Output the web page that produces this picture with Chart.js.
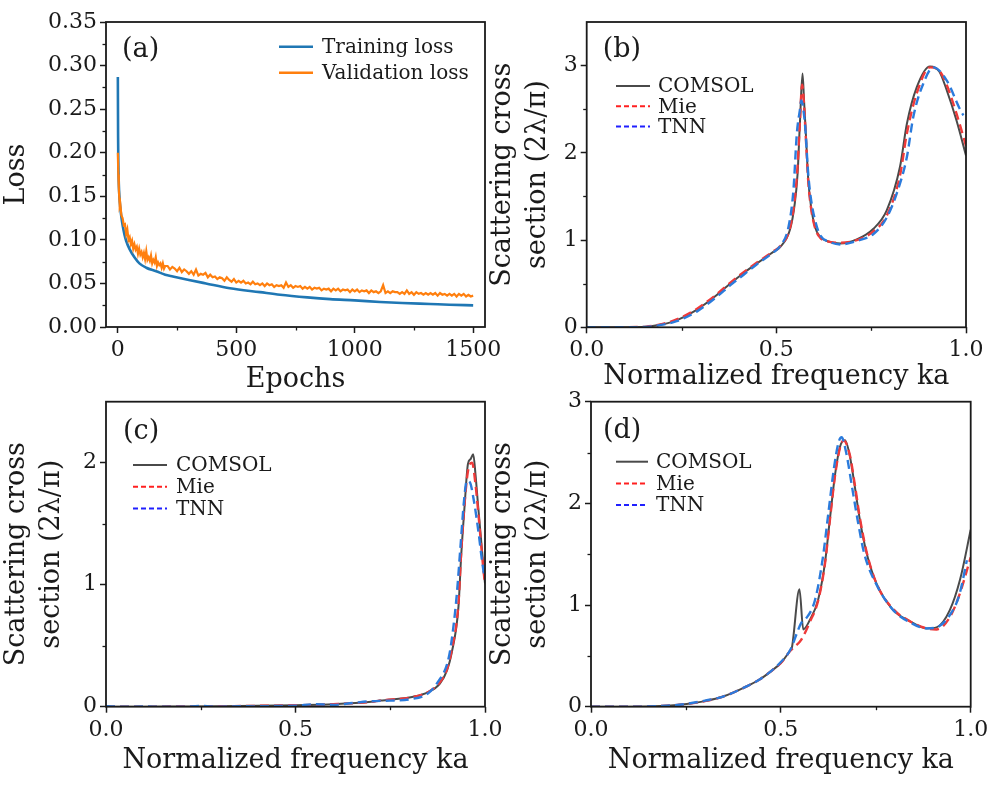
<!DOCTYPE html>
<html><head><meta charset="utf-8">
<script src="https://cdn.jsdelivr.net/npm/chart.js@4.4.0/dist/chart.umd.min.js"></script>
<style>
body{margin:0;background:#fff;}
#wrap{position:relative;width:992px;height:787px;overflow:hidden;background:#fff;}
canvas{position:absolute;}
</style></head><body><div id="wrap">
<canvas id="ca" width="505" height="395" style="left:0px;top:0px"></canvas>
<canvas id="cb" width="506" height="395" style="left:486px;top:0px"></canvas>
<canvas id="cc" width="505" height="402" style="left:0px;top:385px"></canvas>
<canvas id="cd" width="506" height="402" style="left:486px;top:385px"></canvas>
</div>
<script>
// ---------- (a) loss curves ----------
const trainEpochs = [0,1,2,4,7,10,14,20,28,35,50,70,91,120,162,200,232,300,372,473,600,685,800,896,1000,1107,1200,1318,1400,1500];
const trainLoss = [0.287,0.22,0.19,0.165,0.148,0.138,0.128,0.117,0.106,0.099,0.089,0.080,0.073,0.068,0.064,0.060,0.058,0.054,0.050,0.0445,0.040,0.037,0.034,0.032,0.0305,0.0287,0.0275,0.0264,0.0256,0.0248];
const valEpochs = [0,2,4,6,8,10,15,20,25,30,35,40,45,50,55,60,65,70,75,80,85,90,95,100,105,110,115,120,125,130,135,140,145,150,155,160,165,170,175,180,185,190,195,200,
210,220,230,240,250,260,270,280,290,300,310,320,330,340,350,360,370,380,390,400,410,420,430,440,450,460,470,480,490,500,
510,520,530,540,550,560,570,580,590,600,610,620,630,640,650,660,670,680,690,700,710,720,730,740,750,760,770,780,790,800,
810,820,830,840,850,860,870,880,890,900,910,920,930,940,950,960,970,980,990,1000,1010,1020,1030,1040,1050,1060,1070,1080,1090,1100,
1110,1120,1130,1140,1150,1160,1170,1180,1190,1200,1210,1220,1230,1240,1250,1260,1270,1280,1290,1300,
1310,1320,1330,1340,1350,1360,1370,1380,1390,1400,1410,1420,1430,1440,1450,1460,1470,1480,1490,1500];
const valLoss = [0.200,0.175,0.160,0.148,0.140,0.142,0.128,0.125,0.117,0.118,0.107,0.112,0.100,0.103,0.095,0.099,0.090,0.095,0.089,0.092,0.084,0.090,0.083,0.086,0.080,0.085,0.078,0.087,0.077,0.080,0.076,0.082,0.073,0.077,0.074,0.080,0.070,0.074,0.071,0.073,0.068,0.073,0.067,0.070,
0.070,0.066,0.069,0.067,0.064,0.068,0.063,0.066,0.064,0.061,
0.064,0.060,0.066,0.059,0.061,0.060,0.062,0.057,0.060,0.057,
0.058,0.055,0.057,0.056,0.053,0.057,0.054,0.052,0.055,0.051,
0.053,0.051,0.053,0.050,0.051,0.049,0.052,0.049,0.050,0.048,
0.050,0.047,0.050,0.048,0.049,0.046,0.048,0.047,0.048,0.045,
0.051,0.046,0.048,0.045,0.047,0.046,0.047,0.044,0.046,0.044,
0.046,0.043,0.045,0.044,0.045,0.042,0.044,0.043,0.044,0.041,
0.044,0.042,0.044,0.041,0.043,0.042,0.043,0.040,0.043,0.041,
0.043,0.040,0.042,0.041,0.042,0.039,0.042,0.040,0.041,0.039,
0.041,0.048,0.039,0.041,0.039,0.041,0.040,0.040,0.038,0.040,
0.038,0.042,0.038,0.040,0.037,0.040,0.038,0.039,0.037,0.039,
0.037,0.039,0.037,0.039,0.036,0.039,0.037,0.038,0.036,0.038,
0.036,0.038,0.035,0.038,0.036,0.038,0.035,0.037,0.035,0.036];
const aXTicks = [0,500,1000,1500], aXLabels = ['0','500','1000','1500'];
const aYTicks = [0,0.05,0.10,0.15,0.20,0.25,0.30,0.35], aYLabels = ['0.00','0.05','0.10','0.15','0.20','0.25','0.30','0.35'];
const aXMinor = [250,750,1250];
const aYMinor = [0.025,0.075,0.125,0.175,0.225,0.275,0.325];

// ---------- (b) ----------
const bComsolKa = [0,0.05,0.10,0.158,0.20,0.237,0.29,0.343,0.378,0.413,0.448,0.492,0.51,0.536,0.548,0.556,0.562,0.569,0.573,0.578,0.584,0.591,0.602,0.615,0.64,0.668,0.712,0.756,0.791,0.826,0.844,0.87,0.905,0.93,0.949,0.975,1.0];
const bComsol = [0,0,0.001,0.007,0.035,0.08,0.20,0.37,0.50,0.62,0.73,0.865,0.92,1.12,1.4,1.76,2.33,2.91,2.6,2.2,1.7,1.4,1.15,1.04,0.98,0.96,1.007,1.13,1.34,1.84,2.33,2.75,2.99,2.93,2.72,2.37,1.97];
const bMieKa = [0,0.05,0.10,0.158,0.20,0.237,0.29,0.343,0.378,0.413,0.448,0.492,0.51,0.536,0.548,0.556,0.562,0.568,0.573,0.578,0.584,0.591,0.602,0.615,0.64,0.668,0.712,0.756,0.791,0.826,0.844,0.87,0.905,0.93,0.949,0.975,1.0];
const bMie = [0,0,0.001,0.008,0.04,0.09,0.21,0.38,0.51,0.63,0.74,0.87,0.93,1.14,1.45,1.85,2.35,2.78,2.55,2.15,1.68,1.38,1.14,1.03,0.98,0.97,1.0,1.10,1.28,1.74,2.22,2.68,2.98,2.94,2.78,2.45,2.08];
const bTnnKa = [0,0.05,0.10,0.158,0.20,0.237,0.29,0.343,0.378,0.413,0.448,0.492,0.51,0.532,0.545,0.554,0.562,0.566,0.571,0.576,0.584,0.592,0.602,0.615,0.64,0.668,0.712,0.756,0.79,0.817,0.844,0.861,0.887,0.914,0.949,0.984,0.993];
const bTnn = [0,0,0,0.005,0.03,0.07,0.18,0.35,0.48,0.60,0.72,0.86,0.93,1.15,1.57,2.22,2.49,2.6,2.5,2.3,1.76,1.45,1.23,1.06,0.98,0.95,0.99,1.07,1.25,1.53,1.95,2.41,2.79,2.98,2.83,2.5,2.43];

// ---------- (c) ----------
const cComsolKa = [0,0.1,0.2,0.3,0.4,0.5,0.6,0.7,0.723,0.811,0.85,0.881,0.9,0.912,0.93,0.937,0.946,0.955,0.962,0.969,0.975,0.982,0.995,1.0];
const cComsol = [0,0,0.002,0.004,0.007,0.012,0.02,0.04,0.05,0.082,0.12,0.19,0.30,0.44,0.82,1.23,1.64,1.99,2.03,2.07,1.9,1.64,1.18,1.01];
const cMieKa = [0,0.1,0.2,0.3,0.4,0.5,0.6,0.7,0.723,0.811,0.85,0.881,0.9,0.912,0.93,0.937,0.946,0.955,0.966,0.975,0.982,0.995,1.0];
const cMie = [0,0,0.002,0.004,0.007,0.012,0.021,0.04,0.05,0.08,0.12,0.2,0.31,0.46,0.85,1.26,1.66,1.93,2.0,1.82,1.6,1.15,1.0];
const cTnnKa = [0,0.05,0.1,0.15,0.2,0.25,0.3,0.35,0.4,0.45,0.5,0.55,0.6,0.65,0.7,0.75,0.8,0.85,0.875,0.9,0.91,0.925,0.935,0.945,0.952,0.96,0.97,0.982,0.992,0.997];
const cTnn = [0.005,0,0.002,0,0,0.006,0,0.004,0.003,0.006,0.008,0.02,0.015,0.03,0.045,0.05,0.06,0.11,0.2,0.35,0.5,0.9,1.3,1.7,1.85,1.84,1.7,1.45,1.2,1.09];

// ---------- (d) ----------
const dComsolKa = [0,0.1,0.2,0.252,0.3,0.348,0.41,0.445,0.471,0.5,0.524,0.529,0.549,0.559,0.576,0.598,0.616,0.629,0.643,0.656,0.669,0.682,0.695,0.708,0.726,0.752,0.796,0.84,0.884,0.91,0.945,0.972,1.0];
const dComsol = [0,0,0.01,0.027,0.055,0.1,0.2,0.27,0.34,0.43,0.55,0.58,1.155,0.76,0.85,1.05,1.41,1.84,2.29,2.56,2.62,2.46,2.16,1.84,1.51,1.21,0.95,0.84,0.77,0.78,0.95,1.25,1.74];
const dMieKa = [0,0.1,0.2,0.252,0.3,0.348,0.41,0.445,0.471,0.5,0.525,0.554,0.576,0.598,0.616,0.629,0.643,0.656,0.665,0.682,0.695,0.708,0.726,0.752,0.796,0.84,0.884,0.91,0.945,0.972,1.0];
const dMie = [0,0,0.01,0.027,0.055,0.1,0.2,0.27,0.34,0.43,0.55,0.66,0.83,1.04,1.40,1.83,2.28,2.55,2.62,2.47,2.18,1.86,1.52,1.21,0.96,0.84,0.77,0.76,0.88,1.12,1.47];
const dTnnKa = [0,0.1,0.2,0.252,0.3,0.348,0.41,0.445,0.471,0.5,0.525,0.542,0.553,0.565,0.59,0.61,0.625,0.64,0.652,0.66,0.672,0.688,0.703,0.72,0.752,0.796,0.84,0.884,0.91,0.95,0.97,0.99];
const dTnn = [0,0,0.01,0.028,0.06,0.1,0.2,0.27,0.34,0.44,0.56,0.72,0.82,0.86,1.05,1.45,1.9,2.35,2.6,2.65,2.5,2.15,1.82,1.5,1.2,0.95,0.83,0.77,0.78,0.93,1.1,1.44];

const kaTicks = [0,0.5,1.0], kaLabels = ['0.0','0.5','1.0'], kaMinor = [0.25,0.75];
const seriesNames = ['COMSOL','Mie','TNN'];

// ---------- styling ----------
const FONT = 'DejaVu Serif';
const INK = '#1a1a1a';
const C_COMSOL = '#4a4a4a', C_MIE = '#ee3a3a', C_TNN = '#2b7bdc';
const L_MIE = '#ff2020', L_TNN = '#2020ff';
Chart.defaults.font.family = FONT;
Chart.defaults.color = INK;

const pts = (xs, ys) => xs.map((x, i) => ({x, y: ys[i]}));

const deco = {
  id: 'deco',
  afterDraw(chart, args, o) {
    const {ctx, chartArea: a, scales: {x, y}} = chart;
    ctx.save();
    ctx.strokeStyle = INK; ctx.lineWidth = 1.3;
    o.minorX.forEach(v => { const p = Math.round(x.getPixelForValue(v)) + 0.5; ctx.beginPath(); ctx.moveTo(p, a.bottom); ctx.lineTo(p, a.bottom + 3.5); ctx.stroke(); });
    o.minorY.forEach(v => { const p = Math.round(y.getPixelForValue(v)) + 0.5; ctx.beginPath(); ctx.moveTo(a.left, p); ctx.lineTo(a.left - 3.5, p); ctx.stroke(); });
    ctx.lineWidth = 1.8;
    ctx.strokeRect(a.left, a.top, a.right - a.left, a.bottom - a.top);
    ctx.fillStyle = INK; ctx.textAlign = 'left'; ctx.textBaseline = 'middle';
    ctx.font = '27px "' + FONT + '"';
    ctx.fillText(o.label, a.left + o.labelDx, a.top + o.labelDy);
    ctx.font = o.legendSize + 'px "' + FONT + '"';
    o.items.forEach((it, i) => {
      const yy = a.top + o.legDy + i * o.legStep;
      const x0 = a.left + o.legDx;
      ctx.strokeStyle = it.color; ctx.lineWidth = it.width; ctx.setLineDash(it.dash);
      ctx.beginPath(); ctx.moveTo(x0, yy); ctx.lineTo(x0 + o.legLen, yy); ctx.stroke();
      ctx.setLineDash([]);
      ctx.fillStyle = INK;
      ctx.fillText(chart.data.datasets[it.ds].label, x0 + o.legLen + o.legGap, yy + 1);
    });
    ctx.restore();
  }
};

function panel(id, geo, datasets, sc) {
  const cv = document.getElementById(id);
  const W = cv.width, H = cv.height;
  return new Chart(cv, {
    type: 'line',
    data: {datasets},
    options: {
      responsive: false, animation: false, events: [],
      layout: {padding: {left: 0, top: geo.top, right: W - geo.right, bottom: 0}},
      elements: {point: {radius: 0}},
      plugins: {legend: {display: false}, tooltip: {enabled: false}, deco: sc.deco},
      scales: {
        x: {
          type: 'linear', min: sc.xmin, max: sc.xmax,
          afterFit(s) { s.height = H - geo.bottom; s.paddingLeft = 0; s.paddingRight = 0; },
          afterBuildTicks(s) { s.ticks = sc.xTicks.map(v => ({value: v})); },
          ticks: {callback: (v) => sc.xLabels[sc.xTicks.indexOf(v)], font: {size: 22}, color: INK, padding: 4, maxRotation: 0, autoSkip: false},
          grid: {drawOnChartArea: false, drawTicks: true, tickLength: 6, tickWidth: 1.5, tickColor: INK, color: INK},
          border: {display: false},
          title: {display: true, text: sc.xTitle, color: INK, font: {size: 27, lineHeight: 1}, padding: {top: 0, bottom: sc.xTitlePad}}
        },
        y: {
          type: 'linear', min: sc.ymin, max: sc.ymax,
          afterFit(s) { s.width = geo.left; s.paddingTop = 0; s.paddingBottom = 0; },
          afterBuildTicks(s) { s.ticks = sc.yTicks.map(v => ({value: v})); },
          ticks: {callback: (v) => sc.yLabels[sc.yTicks.indexOf(v)], font: {size: 22}, color: INK, padding: 3, autoSkip: false},
          grid: {drawOnChartArea: false, drawTicks: true, tickLength: 6, tickWidth: 1.5, tickColor: INK, color: INK},
          border: {display: false},
          title: {display: true, text: sc.yTitle, color: INK, font: {size: 27, lineHeight: sc.yTitleLH}, padding: {top: sc.yTitlePad, bottom: 0}}
        }
      }
    },
    plugins: [deco]
  });
}

function specDatasets(cKa, c, mKa, m, tKa, t) {
  return [
    {label: seriesNames[2], data: pts(tKa, t), borderColor: C_TNN, borderWidth: 2.4, borderDash: [9, 5], cubicInterpolationMode: 'monotone', order: 0},
    {label: seriesNames[1], data: pts(mKa, m), borderColor: C_MIE, borderWidth: 2.4, borderDash: [9, 5], cubicInterpolationMode: 'monotone', order: 1},
    {label: seriesNames[0], data: pts(cKa, c), borderColor: C_COMSOL, borderWidth: 2, cubicInterpolationMode: 'monotone', order: 2}
  ];
}
const specItems = [
  {ds: 2, color: C_COMSOL, width: 2, dash: []},
  {ds: 1, color: L_MIE, width: 2, dash: [5, 3]},
  {ds: 0, color: L_TNN, width: 2, dash: [5, 3]}
];
const yTitle2 = ['Scattering cross', 'section (2λ/π)'];
const xTitleKa = 'Normalized frequency ka';

// (a)
panel('ca', {left: 106, right: 485, top: 22, bottom: 327}, [
  {label: 'Validation loss', data: pts(valEpochs, valLoss), borderColor: '#ff7f0e', borderWidth: 2.2, tension: 0, order: 0},
  {label: 'Training loss', data: pts(trainEpochs, trainLoss), borderColor: '#1f77b4', borderWidth: 2.6, cubicInterpolationMode: 'monotone', order: 1}
], {
  xmin: -50, xmax: 1550, ymin: 0, ymax: 0.35,
  xTicks: aXTicks, xLabels: aXLabels, yTicks: aYTicks, yLabels: aYLabels,
  xTitle: 'Epochs', xTitlePad: 1.5, yTitle: 'Loss', yTitlePad: 3.5, yTitleLH: 1,
  deco: {minorX: aXMinor, minorY: aYMinor, label: '(a)', labelDx: 16, labelDy: 28,
    legendSize: 20, legDx: 173, legDy: 24.7, legStep: 26, legLen: 34, legGap: 9,
    items: [{ds: 1, color: '#1f77b4', width: 2.6, dash: []}, {ds: 0, color: '#ff7f0e', width: 2.6, dash: []}]}
});

// (b)
panel('cb', {left: 100.7, right: 480, top: 22, bottom: 327.3}, specDatasets(bComsolKa, bComsol, bMieKa, bMie, bTnnKa, bTnn), {
  xmin: 0, xmax: 1, ymin: 0, ymax: 3.5,
  xTicks: kaTicks, xLabels: kaLabels, yTicks: [0,1,2,3], yLabels: ['0','1','2','3'],
  xTitle: xTitleKa, xTitlePad: 4.5, yTitle: yTitle2, yTitlePad: -0.5, yTitleLH: 1.3,
  deco: {minorX: kaMinor, minorY: [0.5,1.5,2.5], label: '(b)', labelDx: 16, labelDy: 28,
    legendSize: 20, legDx: 29.3, legDy: 64, legStep: 20.3, legLen: 34, legGap: 8, items: specItems}
});

// (c)
panel('cc', {left: 106, right: 485, top: 16.7, bottom: 321.7}, specDatasets(cComsolKa, cComsol, cMieKa, cMie, cTnnKa, cTnn), {
  xmin: 0, xmax: 1, ymin: 0, ymax: 2.5,
  xTicks: kaTicks, xLabels: kaLabels, yTicks: [0,1,2], yLabels: ['0','1','2'],
  xTitle: xTitleKa, xTitlePad: 12.5, yTitle: yTitle2, yTitlePad: -1, yTitleLH: 1.3,
  deco: {minorX: kaMinor, minorY: [0.5,1.5], label: '(c)', labelDx: 17, labelDy: 29.8,
    legendSize: 20, legDx: 27, legDy: 63.3, legStep: 21.7, legLen: 34, legGap: 9, items: specItems}
});

// (d)
panel('cd', {left: 105, right: 484.7, top: 16.7, bottom: 321.7}, specDatasets(dComsolKa, dComsol, dMieKa, dMie, dTnnKa, dTnn), {
  xmin: 0, xmax: 1, ymin: 0, ymax: 3,
  xTicks: kaTicks, xLabels: kaLabels, yTicks: [0,1,2,3], yLabels: ['0','1','2','3'],
  xTitle: xTitleKa, xTitlePad: 12.5, yTitle: yTitle2, yTitlePad: -0.5, yTitleLH: 1.3,
  deco: {minorX: kaMinor, minorY: [0.5,1.5,2.5], label: '(d)', labelDx: 12, labelDy: 29.3,
    legendSize: 20, legDx: 25, legDy: 60, legStep: 21.7, legLen: 32, legGap: 8, items: specItems}
});
</script>
</body></html>
